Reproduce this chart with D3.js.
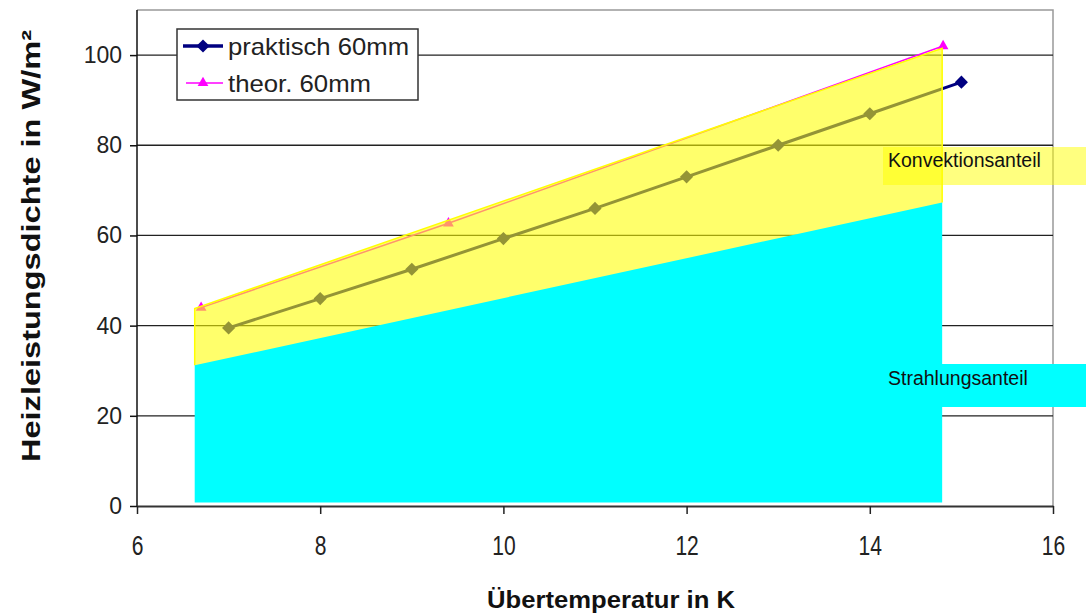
<!DOCTYPE html>
<html><head><meta charset="utf-8">
<script src="https://cdn.jsdelivr.net/npm/d3@7"></script>
<style>body{margin:0;background:#fff}svg{display:block;font-family:"Liberation Sans",Arial,sans-serif}</style>
</head><body><svg id="c" width="1086" height="613"></svg>
<script>
// ---- data ----
const praktischX = [7, 8, 9, 10, 11, 12, 13, 14, 15];
const praktischY = [39.5, 46, 52.5, 59.3, 66, 73, 80, 87, 94];
const theorX = [6.7, 9.4, 14.8];
const theorY = [44, 62.7, 102];
const areaX = [6.63, 14.79];
const konvektionTop = [43.8, 101.5];
const strahlungTop = [31.2, 67.3];
const areaBottom = 0.8;
const xTicks = [6, 8, 10, 12, 14, 16];
const yTicks = [0, 20, 40, 60, 80, 100];
const seriesNames = ["praktisch 60mm", "theor. 60mm"];
const areaLabels = ["Konvektionsanteil", "Strahlungsanteil"];
const xTitle = "Übertemperatur in K";
const yTitle = "Heizleistungsdichte in W/m²";

const svg = d3.select("#c");
const L = 137, R = 1053, T = 10, B = 506;
const x = d3.scaleLinear().domain([6, 16]).range([L, R]);
const y = d3.scaleLinear().domain([0, 110]).range([B, T]);

// plot border (top/right grey)
svg.append("path").attr("d", `M${L},${T}H${R}V${B}`).attr("fill", "none").attr("stroke", "#999").attr("stroke-width", 1.5);

// grid
svg.append("g").selectAll("line").data(yTicks.filter(d => d > 0)).join("line")
  .attr("x1", L).attr("x2", R).attr("y1", d => y(d)).attr("y2", d => y(d))
  .attr("stroke", "#222").attr("stroke-width", 1.3);

// praktisch series
const pData = praktischX.map((d, i) => [d, praktischY[i]]);
svg.append("path").datum(pData).attr("fill", "none").attr("stroke", "#000080").attr("stroke-width", 3)
  .attr("d", d3.line().x(d => x(d[0])).y(d => y(d[1])));
svg.append("g").selectAll("path").data(pData).join("path")
  .attr("transform", d => `translate(${x(d[0])},${y(d[1])})`)
  .attr("d", d3.symbol(d3.symbolDiamond2, 110)).attr("fill", "#000080");

// theor series
const tData = theorX.map((d, i) => [d, theorY[i]]);
svg.append("path").datum(tData).attr("fill", "none").attr("stroke", "#ff00ff").attr("stroke-width", 1.5)
  .attr("d", d3.line().x(d => x(d[0])).y(d => y(d[1])));
svg.append("g").selectAll("path").data(tData).join("path")
  .attr("transform", d => `translate(${x(d[0])},${y(d[1])})`)
  .attr("d", d3.symbol(d3.symbolTriangle, 50)).attr("fill", "#ff00ff");

// convection area (semi-transparent yellow), stacked on top of the radiation part
const kData = areaX.map((d, i) => [d, konvektionTop[i], strahlungTop[i]]);
svg.append("path").datum(kData).attr("fill", "rgba(255,255,0,0.58)")
  .attr("d", d3.area().x(d => x(d[0])).y0(d => y(d[2]) + 1).y1(d => y(d[1])));
svg.append("path").datum(kData).attr("fill", "none").attr("stroke", "#ffff00").attr("stroke-width", 1.5)
  .attr("d", d => `M${x(d[0][0])},${y(d[0][2])}L${x(d[0][0])},${y(d[0][1])}L${x(d[1][0])},${y(d[1][1])}L${x(d[1][0])},${y(d[1][2])}`);
// radiation area (opaque cyan)
const sData = areaX.map((d, i) => [d, strahlungTop[i]]);
svg.append("path").datum(sData).attr("fill", "#00ffff")
  .attr("d", d3.area().x(d => x(d[0])).y0(y(areaBottom)).y1(d => y(d[1])));

// area label boxes
svg.append("rect").attr("x", 883).attr("y", 147).attr("width", 210).attr("height", 38).attr("fill", "rgba(255,255,0,0.5)");
svg.append("rect").attr("x", 883).attr("y", 364).attr("width", 210).attr("height", 43).attr("fill", "#00ffff");
svg.append("text").attr("x", 888).attr("y", 167).attr("font-size", 19.5).attr("fill", "#111").text(areaLabels[0]);
svg.append("text").attr("x", 888).attr("y", 385).attr("font-size", 19.5).attr("fill", "#111").text(areaLabels[1]);

// axes
const gx = svg.append("g").attr("transform", `translate(0,${B})`)
  .call(d3.axisBottom(x).tickValues(xTicks).tickSize(8).tickSizeOuter(0).tickPadding(22));
gx.select(".domain").attr("stroke", "#333").attr("stroke-width", 2);
gx.selectAll(".tick line").attr("stroke", "#222").attr("stroke-width", 1.5);
gx.selectAll(".tick text").attr("font-size", 27).attr("fill", "#222").attr("font-family", "Liberation Sans")
  .attr("transform", "scale(0.78,1)");

const gy = svg.append("g").attr("transform", `translate(${L},0)`)
  .call(d3.axisLeft(y).tickValues(yTicks).tickSize(7).tickSizeOuter(0).tickPadding(8));
gy.select(".domain").attr("stroke", "#111").attr("stroke-width", 1.5).attr("d", `M0,${T}V${B}`);
gy.selectAll(".tick line").attr("stroke", "#111").attr("stroke-width", 1.5);
gy.selectAll(".tick text").attr("font-size", 23).attr("fill", "#222").attr("font-family", "Liberation Sans");
svg.selectAll(".domain").attr("fill", "none");

// titles
svg.append("text").attr("x", 611).attr("y", 608).attr("text-anchor", "middle")
  .attr("font-size", 24).attr("font-weight", "bold").attr("fill", "#111")
  .attr("textLength", 248).attr("lengthAdjust", "spacingAndGlyphs").text(xTitle);
svg.append("text").attr("transform", "translate(40,246) rotate(-90)").attr("text-anchor", "middle")
  .attr("font-size", 25).attr("font-weight", "bold").attr("fill", "#111")
  .attr("textLength", 432).attr("lengthAdjust", "spacingAndGlyphs").text(yTitle);

// legend
const lg = svg.append("g");
lg.append("rect").attr("x", 177).attr("y", 29).attr("width", 241).attr("height", 71)
  .attr("fill", "#fff").attr("stroke", "#333").attr("stroke-width", 1.5);
lg.append("line").attr("x1", 183).attr("x2", 223).attr("y1", 46).attr("y2", 46).attr("stroke", "#000080").attr("stroke-width", 3.5);
lg.append("path").attr("transform", "translate(203,46)").attr("d", d3.symbol(d3.symbolDiamond2, 110)).attr("fill", "#000080");
lg.append("line").attr("x1", 186).attr("x2", 223).attr("y1", 83).attr("y2", 83).attr("stroke", "#ff00ff").attr("stroke-width", 1.5);
lg.append("path").attr("transform", "translate(203,83)").attr("d", d3.symbol(d3.symbolTriangle, 50)).attr("fill", "#ff00ff");
lg.append("text").attr("x", 228).attr("y", 55).attr("font-size", 24).attr("fill", "#222")
  .attr("textLength", 181).attr("lengthAdjust", "spacingAndGlyphs").text(seriesNames[0]);
lg.append("text").attr("x", 228).attr("y", 92).attr("font-size", 24).attr("fill", "#222")
  .attr("textLength", 143).attr("lengthAdjust", "spacingAndGlyphs").text(seriesNames[1]);
</script></body></html>
